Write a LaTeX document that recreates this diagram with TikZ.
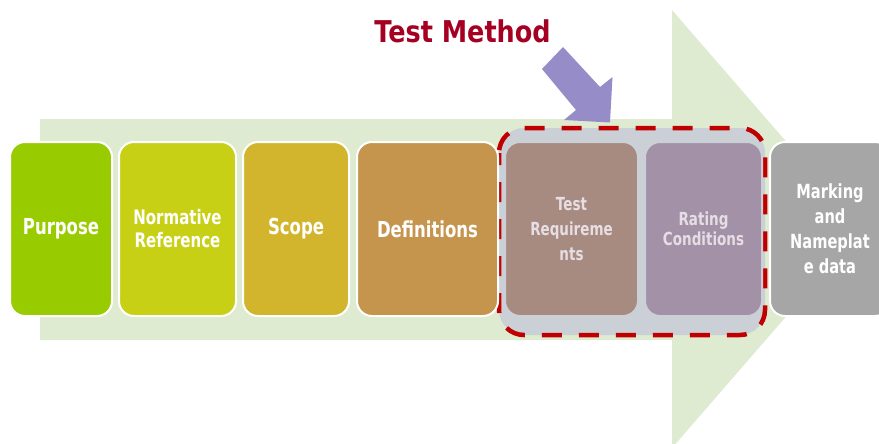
\documentclass[tikz,border=0pt]{standalone}
\usepackage{fontspec}
\newfontfamily\boxfont[FakeStretch=0.75]{DejaVu Sans}
\newfontfamily\titlefont[FakeStretch=0.85]{DejaVu Sans}
\definecolor{arrowgreen}{HTML}{DFEBD1}
\definecolor{cPurpose}{HTML}{99CC00}
\definecolor{cNorm}{HTML}{C8D016}
\definecolor{cScope}{HTML}{D2B52C}
\definecolor{cDef}{HTML}{C5954D}
\definecolor{cTest}{HTML}{A88B80}
\definecolor{cRating}{HTML}{A391A8}
\definecolor{cMark}{HTML}{A6A6A6}
\definecolor{cPurple}{HTML}{968DC8}
\definecolor{cTitle}{HTML}{A50021}
\definecolor{cDash}{HTML}{C00000}
\definecolor{cGroup}{HTML}{CBCFD6}
\definecolor{cFaded}{HTML}{E6DEE4}
\tikzset{
  stage/.style={draw=white, line width=2pt, rounded corners=15pt, minimum height=174pt,
    inner sep=0pt, align=center, text=white},
  fs/.style 2 args={font=\boxfont\bfseries\fontsize{#1}{#2}\selectfont},
}
\begin{document}
\begin{tikzpicture}[x=1pt,y=-1pt]
\useasboundingbox (0,0) rectangle (879,444);
\clip (0,0) rectangle (879,444);
% big background arrow
\fill[arrowgreen] (40,119) -- (672,119) -- (672,10) -- (862,229) -- (672,448) -- (672,340) -- (40,340) -- cycle;
% title
\node[anchor=base, text=cTitle, font=\titlefont\bfseries\fontsize{30}{36}\selectfont, inner sep=0pt] (title) at (462.5,43) {Test Method};
% purple pointer arrow
\fill[cPurple] (563,47) -- (542,69) -- (576,110) -- (564,120) -- (610,122.5) -- (612.5,77) -- (600,87) -- cycle;
% group
\draw[cDash, line width=4.5pt, fill=cGroup, rounded corners=25pt, dash pattern=on 20pt off 17pt, dash phase=8pt] (499,128) rectangle (765,335);
% stages
\node[stage, fill=cPurpose, minimum width=102pt, fs={22}{25}] (purpose) at (61,229) {Purpose};
\node[stage, fill=cNorm, minimum width=117pt, fs={20}{23}] (norm) at (177.5,229) {Normative\\Reference};
\node[stage, fill=cScope, minimum width=106pt, fs={22}{25}] (scope) at (296,229) {Scope};
\node[stage, fill=cDef, minimum width=141pt, fs={22}{25}] (def) at (427.5,229) {Definitions};
\node[stage, draw=cGroup, fill=cTest, minimum width=133pt, text=cFaded, fs={18}{25}] (test) at (571.5,229) {Test\\Requireme\\nts};
\node[stage, draw=cGroup, fill=cRating, minimum width=117pt, text=cFaded, fs={18}{20}] (rating) at (703.5,229) {Rating\\Conditions};
\node[stage, fill=cMark, minimum width=120pt, fs={19.5}{25}] (mark) at (830,229) {Marking\\and\\Nameplat\\e data};
\end{tikzpicture}
\end{document}
